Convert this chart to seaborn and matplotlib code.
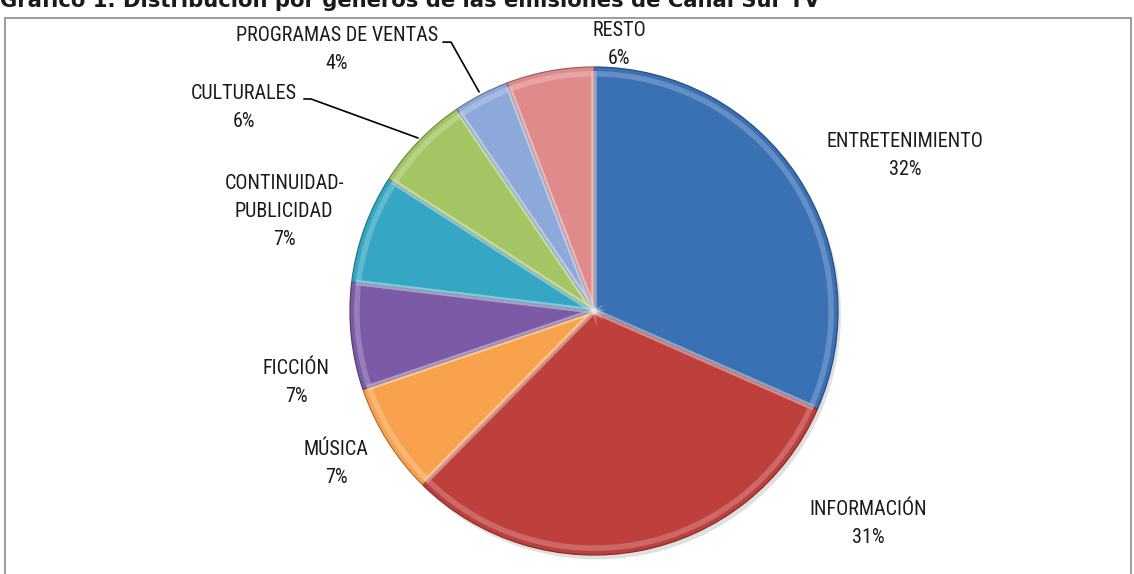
import numpy as np
import matplotlib.pyplot as plt
import matplotlib.patches as mpatches
from matplotlib import font_manager, colors as mcolors
import seaborn as sns

# genre shares (%), clockwise from 12 o'clock
generos = ['ENTRETENIMIENTO', 'INFORMACIÓN', 'MÚSICA', 'FICCIÓN',
           'CONTINUIDAD-\nPUBLICIDAD', 'CULTURALES', 'PROGRAMAS DE VENTAS', 'RESTO']
porcentajes = [31.6, 30.8, 7.4, 7.1, 7.2, 6.4, 3.7, 5.8]
colores = ['#3A70B4', '#BE403D', '#F9A24E', '#7B5AA6',
           '#35A6C3', '#A3C564', '#8DA9DA', '#DF8B8B']

titulo = 'Gráfico 1. Distribución por géneros de las emisiones de Canal Sur TV'

# label anchor positions in pie units (radius = 1), centre of the text block
pos_etiquetas = [(1.275, 0.639), (1.123, -0.869), (-1.057, -0.623), (-1.221, -0.291),
                 (-1.270, 0.406), (-1.434, 0.832), (-1.053, 1.070), (0.102, 1.094)]
# leader lines (only two labels use them)
guias = {
    'CULTURALES': [(-1.189, 0.869), (-1.160, 0.869), (-0.721, 0.709)],
    'PROGRAMAS DE VENTAS': [(-0.619, 1.102), (-0.586, 1.102), (-0.471, 0.898)],
}

sns.set_style('white')

# pick a narrow family if one is around, else a regular sans
disponibles = {f.name for f in font_manager.fontManager.ttflist}
fuente = 'Liberation Sans'
for cand in ['Liberation Sans Narrow', 'Roboto Condensed', 'Open Sans Condensed', 'Roboto']:
    if cand in disponibles:
        fuente = cand
        break
plt.rcParams['font.family'] = [fuente, 'DejaVu Sans']
estrecha = 'Narrow' in fuente or 'Condensed' in fuente
tam = 14.5 if estrecha else 12.5
interlinea = 1.6 if estrecha else 1.7

fig = plt.figure(figsize=(11.34, 5.74), dpi=100)

# outer chart frame
fig.patches.append(mpatches.Rectangle((5 / 1134, -0.01), 1126 / 1134, (574 - 18) / 574 + 0.01,
                                      transform=fig.transFigure, fill=False,
                                      edgecolor='#8C8C8C', linewidth=1.2))
fig.text(0.0, 1 - 7 / 574, titulo, fontsize=15.2, fontweight='bold',
         family=['DejaVu Sans'], va='baseline', ha='left', color='#1A1A1A')

ax = fig.add_axes([350 / 1134, 19 / 574, 488 / 1134, 488 / 574])

# soft drop shadow under the pie
ax.pie(porcentajes, startangle=90, counterclock=False, radius=1.0, center=(0.012, -0.018),
       colors=['#000000'] * len(porcentajes), wedgeprops=dict(alpha=0.12, linewidth=0))

wedges, _ = ax.pie(porcentajes, colors=colores, startangle=90, counterclock=False,
                   radius=1.0)
for w, c in zip(wedges, colores):
    rgb = np.array(mcolors.to_rgb(c))
    w.set_edgecolor(tuple(rgb * 0.7))
    w.set_linewidth(0.9)

# light bevel rim on each slice
ax.pie(porcentajes, startangle=90, counterclock=False, radius=0.972,
       wedgeprops=dict(fill=False, edgecolor=(1, 1, 1, 0.22), linewidth=4))

ax.set_xlim(-1, 1)
ax.set_ylim(-1, 1)
ax.set_aspect('equal')
ax.axis('off')

for nombre, val, (x, y) in zip(generos, porcentajes, pos_etiquetas):
    ax.text(x, y, f'{nombre}\n{round(val):d}%', ha='center', va='center',
            fontsize=tam, linespacing=interlinea, color='#1A1A1A', clip_on=False)
    if nombre in guias:
        xs, ys = zip(*guias[nombre])
        ax.plot(xs, ys, color='black', linewidth=1.2, clip_on=False)

fig.savefig('out.png', dpi=100)
